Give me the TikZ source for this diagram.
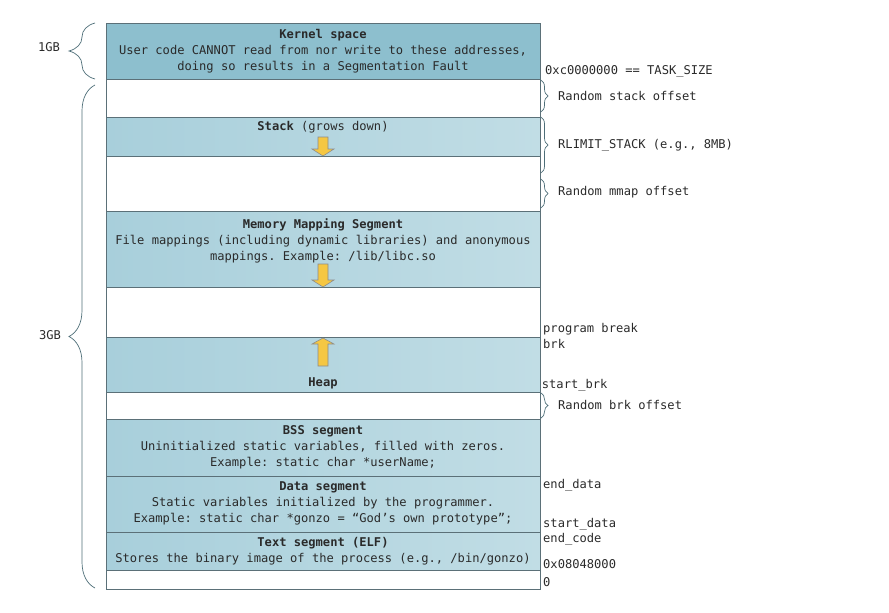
\documentclass[tikz,border=0pt]{standalone}
\usepackage{fontspec}
\setmonofont{DejaVu Sans Mono}
\usetikzlibrary{decorations.pathreplacing}
\definecolor{kern}{HTML}{8DBFCE}
\definecolor{segL}{HTML}{A8CFDB}
\definecolor{segR}{HTML}{C1DDE5}
\definecolor{edge}{HTML}{5B7078}
\definecolor{ink}{HTML}{2A2A2A}
\definecolor{arrowfill}{HTML}{F5C743}
\definecolor{arrowedge}{HTML}{8C8C8C}
\definecolor{bracec}{HTML}{4E6E78}
\begin{document}
\begin{tikzpicture}[x=1pt,y=-1pt,
  font=\ttfamily\fontsize{12.1}{16}\selectfont,
  every node/.style={text=ink},
  block/.style={draw=edge, line width=0.8pt, inner sep=0pt, outer sep=0pt,
    minimum width=434pt, anchor=north west},
  seg/.style={block, left color=segL, right color=segR},
  kseg/.style={block, fill=kern},
  gap/.style={block, fill=white},
  segtext/.style={align=center, inner sep=0pt},
  addr/.style={anchor=west, inner sep=0pt, text height=9pt, text depth=3pt},
  growarrow/.style={fill=arrowfill, draw=arrowedge, line width=0.6pt, line join=miter},
  bigbrace/.style={draw=bracec, line width=0.7pt, decorate,
    decoration={brace, amplitude=26pt}},
  smallbrace/.style={draw=bracec, line width=0.7pt, decorate,
    decoration={brace, amplitude=7pt}}
]
\useasboundingbox (0,0) rectangle (889,613);

% segments
\node[kseg, minimum height=56pt] (kernel) at (106,23) {};
\node[gap,  minimum height=38pt] (gapA)   at (106,79) {};
\node[seg,  minimum height=39pt] (stack)  at (106,117) {};
\node[gap,  minimum height=55pt] (gapB)   at (106,156) {};
\node[seg,  minimum height=76pt] (mmap)   at (106,211) {};
\node[gap,  minimum height=50pt] (gapC)   at (106,287) {};
\node[seg,  minimum height=55pt] (heap)   at (106,337) {};
\node[gap,  minimum height=27pt] (gapD)   at (106,392) {};
\node[seg,  minimum height=57pt] (bss)    at (106,419) {};
\node[seg,  minimum height=56pt] (data)   at (106,476) {};
\node[seg,  minimum height=38pt] (textseg) at (106,532) {};
\node[gap,  minimum height=19pt] (gapE)   at (106,570) {};

% segment texts
\node[segtext] (kerneltxt) at (323,51) {\textbf{Kernel space}\\User code CANNOT read from nor write to these addresses,\\doing so results in a Segmentation Fault};
\node[segtext] (stacktxt) at (323,127) {\textbf{Stack} (grows down)};
\node[segtext] (mmaptxt) at (323,240.5) {\textbf{Memory Mapping Segment}\\File mappings (including dynamic libraries) and anonymous\\mappings. Example: /lib/libc.so};
\node[segtext] (heaptxt) at (323,383) {\textbf{Heap}};
\node[segtext] (bsstxt) at (323,447.7) {\textbf{BSS segment}\\Uninitialized static variables, filled with zeros.\\Example: static char *userName;};
\node[segtext] (datatxt) at (323,503.7) {\textbf{Data segment}\\Static variables initialized by the programmer.\\Example: static char *gonzo = “God’s own prototype”;};
\node[segtext] (texttxt) at (323,551.2) {\textbf{Text segment (ELF)}\\Stores the binary image of the process (e.g., /bin/gonzo)};

% growth arrows
\draw[growarrow] (318,137) -- (328,137) -- (328,149) -- (334,149) -- (323,156) -- (312,149) -- (318,149) -- cycle;
\draw[growarrow] (318,264) -- (328,264) -- (328,280) -- (334,280) -- (323,287) -- (312,280) -- (318,280) -- cycle;
\draw[growarrow] (323,338) -- (334,344) -- (328,344) -- (328,366) -- (318,366) -- (318,344) -- (312,344) -- cycle;

% left braces and labels
\coordinate (gbA1) at (95,79);
\coordinate (gbA2) at (95,23);
\coordinate (gbB1) at (95,588);
\coordinate (gbB2) at (95,85);
\draw[bigbrace] (gbA1) -- (gbA2);
\draw[bigbrace] (gbB1) -- (gbB2);
\node[inner sep=0pt] (onegb) at (49,47) {1GB};
\node[inner sep=0pt] (threegb) at (50,335) {3GB};

% right braces
\coordinate (rs1) at (541,80);  \coordinate (rs2) at (541,112);
\coordinate (rl1) at (541,117); \coordinate (rl2) at (541,173);
\coordinate (rm1) at (541,179); \coordinate (rm2) at (541,208);
\coordinate (rb1) at (541,393); \coordinate (rb2) at (541,418);
\draw[smallbrace] (rs1) -- (rs2);
\draw[smallbrace] (rl1) -- (rl2);
\draw[smallbrace] (rm1) -- (rm2);
\draw[smallbrace] (rb1) -- (rb2);

% right labels
\node[addr] (tasksize) at (545,71.7) {0xc0000000 == TASK\_SIZE};
\node[addr] (rstack) at (558,97.7) {Random stack offset};
\node[addr] (rlimit) at (558,145.7) {RLIMIT\_STACK (e.g., 8MB)};
\node[addr] (rmmap) at (558,192.7) {Random mmap offset};
\node[addr] (pbreak) at (543,329.3) {program break};
\node[addr] (brk) at (543,345.7) {brk};
\node[addr] (startbrk) at (541.7,385) {start\_brk};
\node[addr] (rbrk) at (558,406.7) {Random brk offset};
\node[addr] (enddata) at (543,485.7) {end\_data};
\node[addr] (startdata) at (543,524) {start\_data};
\node[addr] (endcode) at (543,539) {end\_code};
\node[addr] (textaddr) at (543,565) {0x08048000};
\node[addr] (zero) at (543,583.3) {0};
\end{tikzpicture}
\end{document}
